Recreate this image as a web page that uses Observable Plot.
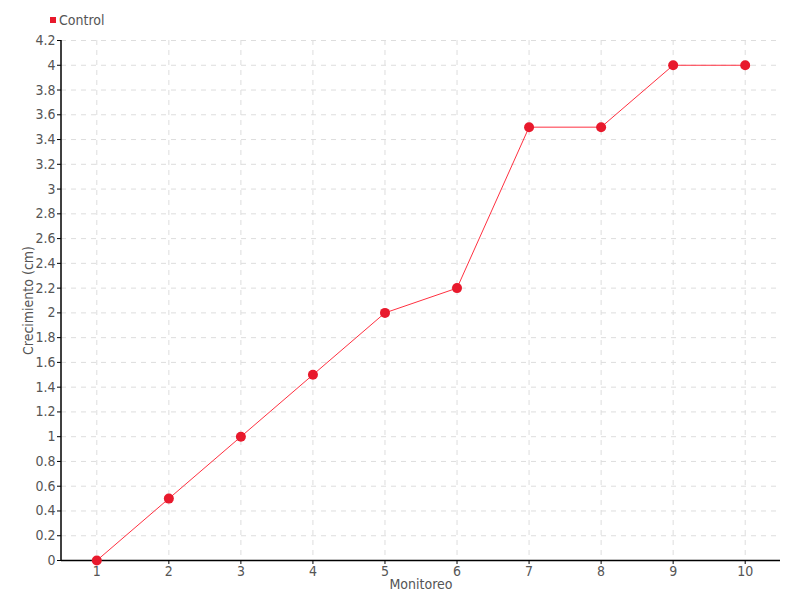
<!DOCTYPE html>
<html><head><meta charset="utf-8">
<script src="https://cdn.jsdelivr.net/npm/d3@7"></script>
<script src="https://cdn.jsdelivr.net/npm/@observablehq/plot@0.6"></script>
<style>
body{margin:0;background:#fff;font-family:"DejaVu Sans Condensed","DejaVu Sans",sans-serif;font-stretch:condensed;}
#wrap{position:relative;width:800px;height:600px;}
#legend{position:absolute;left:50px;top:12px;font-size:14px;color:#555;display:flex;align-items:center;}
#legend span.sw{display:inline-block;width:6px;height:6px;background:#e8192c;margin-right:3px;}
</style></head>
<body><div id="wrap"><div id="legend"><span class="sw"></span>Control</div></div>
<script>
const monitoreo = [1,2,3,4,5,6,7,8,9,10];
const crecimiento = [0,0.5,1,1.5,2,2.2,3.5,3.5,4,4];
const yTicks = [0,0.2,0.4,0.6,0.8,1,1.2,1.4,1.6,1.8,2,2.2,2.4,2.6,2.8,3,3.2,3.4,3.6,3.8,4,4.2];
const data = monitoreo.map((m,i)=>({m, v: crecimiento[i]}));
const color = "#e8192c";
const fmt = d => String(+d.toFixed(1));
const chart = Plot.plot({
  width: 800, height: 600,
  marginLeft: 61, marginRight: 20, marginTop: 40, marginBottom: 40,
  style: {fontFamily: '"DejaVu Sans Condensed","DejaVu Sans",sans-serif', fontStretch: "condensed", fontSize: "14px", color: "#555", background: "#fff"},
  x: {type: "point", domain: monitoreo, padding: 0.49, round: false},
  y: {domain: [0, 4.2]},
  marks: [
    Plot.gridY(yTicks, {stroke: "#ddd", strokeOpacity: 1, strokeDasharray: "5,5"}),
    Plot.gridX(monitoreo, {stroke: "#ddd", strokeOpacity: 1, strokeDasharray: "5,5"}),
    Plot.axisY(yTicks, {tickSize: 4, tickPadding: 2, tickFormat: fmt, stroke: "#000", fill: "#555", label: "Crecimiento (cm)", labelAnchor: "center", labelArrow: "none", labelOffset: 38, fontSize: 14}),
    Plot.axisX(monitoreo, {tickSize: 4, tickPadding: 2, stroke: "#000", fill: "#555", label: "Monitoreo", labelAnchor: "center", labelArrow: "none", labelOffset: 28, fontSize: 14}),
    Plot.ruleY([0], {stroke: "#000", strokeWidth: 1.5}),
    Plot.line(data, {x: "m", y: "v", stroke: "#ff3040", strokeWidth: 1}),
    Plot.dot(data, {x: "m", y: "v", r: 5, fill: color, stroke: "none"})
  ]
});
document.getElementById("wrap").appendChild(chart);
const svg = d3.select(chart);
const yr = chart.scale("y").range;
svg.append("line").attr("x1",61).attr("x2",61).attr("y1",yr[0]).attr("y2",yr[1]).attr("stroke","#000").attr("stroke-width",1.5);
</script></body></html>
